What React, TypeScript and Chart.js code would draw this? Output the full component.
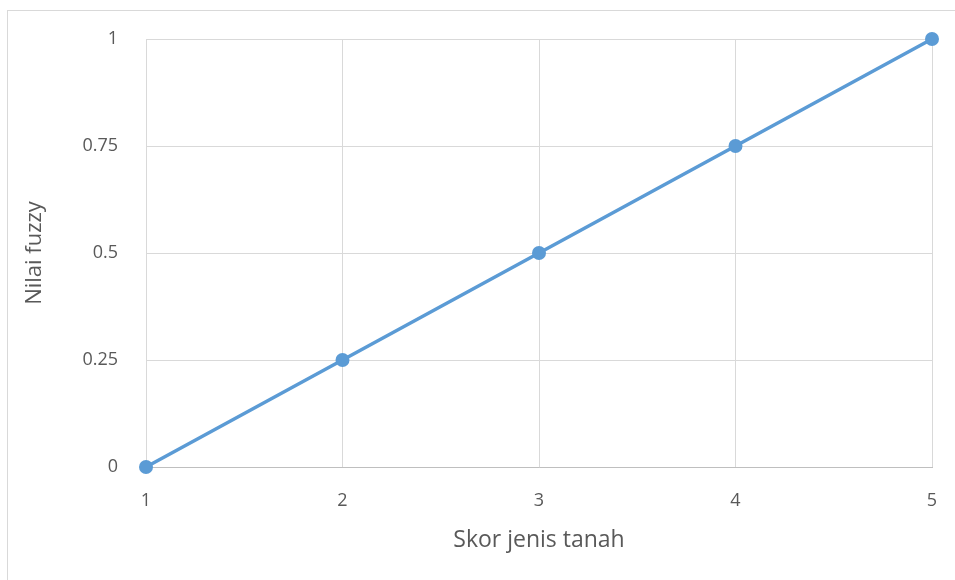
import React, { useEffect, useRef } from "react";
import { Chart, registerables } from "chart.js";

Chart.register(...registerables);

const xValues = [1, 2, 3, 4, 5];
const yValues = [0, 0.25, 0.5, 0.75, 1];
const xTitle = "Skor jenis tanah";
const yTitle = "Nilai fuzzy";

const FONT = "'Open Sans', 'DejaVu Sans', sans-serif";
const TEXT = "#595959";
const LINE = "#5b9bd5";

const framePlugin = {
  id: "frame",
  beforeDraw(chart: any) {
    const { ctx, width, height } = chart;
    ctx.save();
    ctx.fillStyle = "#ffffff";
    ctx.fillRect(0, 0, width, height);
    ctx.strokeStyle = "#d9d9d9";
    ctx.lineWidth = 1;
    ctx.strokeRect(7.5, 10.5, width + 20, height + 20);
    ctx.restore();
  },
};

export default function App() {
  const ref = useRef<HTMLCanvasElement | null>(null);
  useEffect(() => {
    if (!ref.current) return;
    const chart = new Chart(ref.current, {
      type: "line",
      data: {
        datasets: [
          {
            data: xValues.map((x, i) => ({ x, y: yValues[i] })),
            borderColor: LINE,
            backgroundColor: LINE,
            borderWidth: 3.5,
            pointRadius: 7,
            pointHoverRadius: 7,
            pointBorderWidth: 0,
            pointBackgroundColor: LINE,
            tension: 0,
            clip: false,
          },
        ],
      },
      options: {
        animation: false,
        responsive: false,
        maintainAspectRatio: false,
        layout: { padding: { left: 0, top: 39, right: 23, bottom: 0 } },
        plugins: { legend: { display: false }, tooltip: { enabled: false } },
        scales: {
          x: {
            type: "linear",
            min: 1,
            max: 5,
            ticks: {
              stepSize: 1,
              color: TEXT,
              font: { family: FONT, size: 18 },
              padding: 23,
              maxRotation: 0,
              callback: (v: any) => String(v),
            },
            grid: { color: "#d9d9d9", drawTicks: false },
            border: { color: "#bfbfbf", width: 1 },
            title: {
              display: true,
              text: xTitle,
              color: TEXT,
              font: { family: FONT, size: 23 },
              padding: { top: 0, bottom: 26 },
            },
            afterFit: (s: any) => {
              s.height = 113;
              s.paddingLeft = 0;
              s.paddingRight = 0;
            },
          },
          y: {
            min: 0,
            max: 1,
            ticks: {
              stepSize: 0.25,
              color: TEXT,
              font: { family: FONT, size: 18 },
              padding: 28,
              callback: (v: any) => String(v),
            },
            grid: { color: "#d9d9d9", drawTicks: false },
            border: { color: "#d9d9d9", width: 1 },
            title: {
              display: true,
              text: yTitle,
              color: TEXT,
              font: { family: FONT, size: 22 },
              padding: { top: 22, bottom: 0 },
            },
            afterFit: (s: any) => {
              s.width = 146;
              s.paddingTop = 0;
              s.paddingBottom = 0;
            },
          },
        },
      },
      plugins: [framePlugin],
    });
    return () => chart.destroy();
  }, []);
  return (
    <canvas
      ref={ref}
      width={955}
      height={580}
      style={{ position: "absolute", left: 0, top: 0, width: 955, height: 580 }}
    />
  );
}
